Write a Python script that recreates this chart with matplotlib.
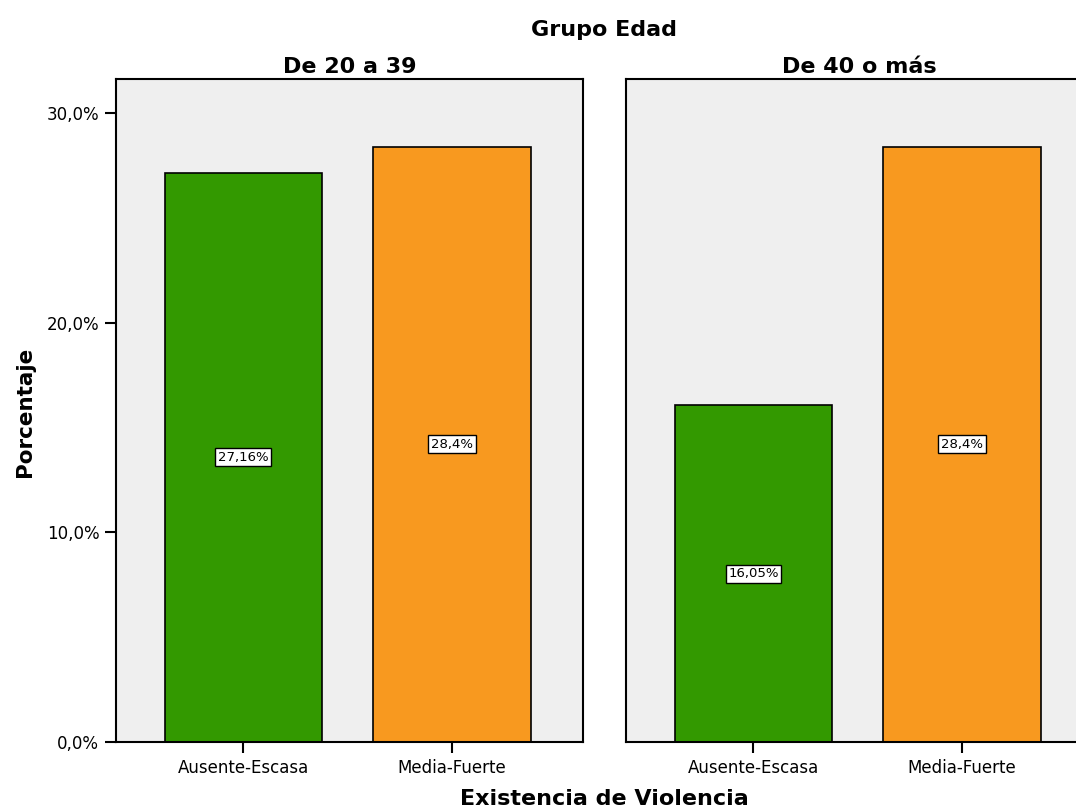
import matplotlib
matplotlib.use("Agg")
import matplotlib.pyplot as plt
from matplotlib.ticker import FuncFormatter, MultipleLocator

# data
categories = ["Ausente-Escasa", "Media-Fuerte"]
groups = ["De 20 a 39", "De 40 o más"]
pct_20_39 = [27.16, 28.4]
pct_40_mas = [16.05, 28.4]
bar_colors = ["#339900", "#F8991F"]

panel_bg = "#EFEFEF"


def pct_label(v):
    return f"{v:g}".replace(".", ",") + "%"


def axis_fmt(v, _pos):
    return f"{v:.1f}%".replace(".", ",")


fig = plt.figure(figsize=(10.76, 8.08), dpi=100)

# panel geometry (figure fractions); right panel runs past the edge like the original
ax_w = 0.434
ax_b = 0.0817
ax_h = 0.8205
ax_left = fig.add_axes([0.1078, ax_b, ax_w, ax_h])
ax_right = fig.add_axes([0.5818, ax_b, ax_w, ax_h])

x = list(range(len(categories)))
for ax, vals, title in [(ax_left, pct_20_39, groups[0]), (ax_right, pct_40_mas, groups[1])]:
    ax.set_facecolor(panel_bg)
    ax.bar(x, vals, width=0.753, color=bar_colors, edgecolor="black", linewidth=1.2, zorder=2)
    for xi, v in zip(x, vals):
        ax.text(xi, v / 2, pct_label(v), ha="center", va="center", fontsize=9.5, zorder=3,
                bbox=dict(boxstyle="square,pad=0.2", facecolor="white", edgecolor="black", linewidth=1.0))
    ax.set_xlim(-0.611, 1.628)
    ax.set_ylim(0, 31.62)
    ax.set_xticks(x)
    ax.set_xticklabels(categories, fontsize=12)
    ax.yaxis.set_major_locator(MultipleLocator(10))
    ax.yaxis.set_major_formatter(FuncFormatter(axis_fmt))
    ax.tick_params(axis="both", direction="out", length=8, width=1.5, labelsize=12, pad=4)
    for s in ax.spines.values():
        s.set_linewidth(1.5)
        s.set_color("black")
    cx = ax.get_position().x0 + ax_w / 2
    fig.text(cx, 1 - 72.7 / 808, title, ha="center", va="baseline", fontsize=16, fontweight="bold")

ax_right.tick_params(axis="y", left=False, labelleft=False)

fig.text(0.5615, 1 - 36.5 / 808, "Grupo Edad", ha="center", va="baseline", fontsize=16, fontweight="bold")
fig.text(0.5615, 3 / 808, "Existencia de Violencia", ha="center", va="baseline", fontsize=16, fontweight="bold")
fig.text(0.023, 1 - 412 / 808, "Porcentaje", ha="center", va="center", rotation=90,
         fontsize=15.5, fontweight="bold")

fig.savefig("out.png", dpi=100)
plt.close(fig)
